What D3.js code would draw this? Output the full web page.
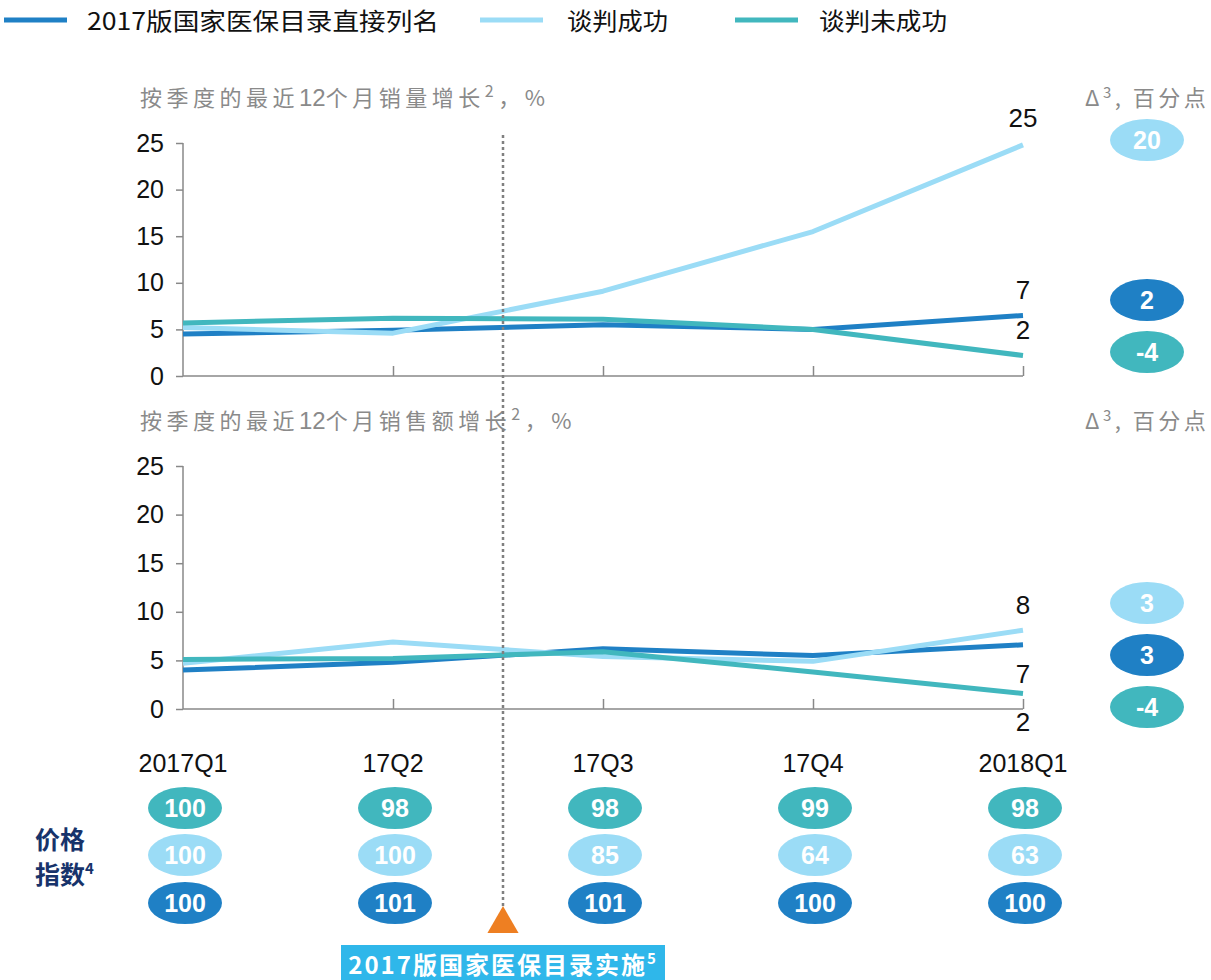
<!DOCTYPE html>
<html><head><meta charset="utf-8">
<script src="https://cdn.jsdelivr.net/npm/d3@7"></script>
<style>
body{margin:0;background:#fff;}
svg{display:block;}
text{font-family:Arial,"Liberation Sans","Noto Sans CJK SC",sans-serif;}
.cjk{font-family:"Noto Sans CJK SC",sans-serif;}
</style></head>
<body>
<svg id="chart" width="1211" height="980"></svg>
<script>
const categories = ["2017Q1","17Q2","17Q3","17Q4","2018Q1"];
const seriesNames = ["2017版国家医保目录直接列名","谈判成功","谈判未成功"];
const colors = ["#1f80c5","#9bdcf6","#41b7be"];

// Top panel: rolling 12-month volume growth, %
const volDirect   = [4.5, 4.9, 5.5, 5.0, 6.5];
const volSuccess  = [5.2, 4.6, 9.1, 15.5, 24.8];
const volFailed   = [5.7, 6.2, 6.1, 5.0, 2.2];
// Bottom panel: rolling 12-month sales value growth, %
const valDirect   = [4.0, 4.8, 6.2, 5.5, 6.6];
const valSuccess  = [4.7, 6.9, 5.4, 4.9, 8.1];
const valFailed   = [5.1, 5.2, 5.9, 3.8, 1.6];

const yTicks = [0,5,10,15,20,25];
const volEndLabels = ["7","25","2"];
const valEndLabels = ["7","8","2"];
const volDelta = ["2","20","-4"];
const valDelta = ["3","3","-4"];

// Price index rows (teal, light, dark)
const priceFailed  = [100, 98, 98, 99, 98];
const priceSuccess = [100, 100, 85, 64, 63];
const priceDirect  = [100, 101, 101, 100, 100];

const svg = d3.select("#chart");
const x = d3.scalePoint().domain(categories).range([183, 1023]);

// Legend
const legX = [4, 480, 735];
const legTextX = [87, 567, 819];
const legTextW = [352, 101, 128];
seriesNames.forEach((n,i)=>{
  svg.append("line").attr("x1",legX[i]).attr("x2",legX[i]+63).attr("y1",20).attr("y2",20)
    .attr("stroke",colors[i]).attr("stroke-width",5);
  svg.append("text").attr("class","cjk").attr("x",legTextX[i]).attr("y",30)
    .attr("font-size",24).attr("fill","#111")
    .attr("textLength",legTextW[i]).attr("lengthAdjust","spacingAndGlyphs").text(n);
});

function panel(top, bottom, data, endLabels, endLabelY, header, deltas, deltaY){
  const y = d3.scaleLinear().domain([0,25]).range([bottom, top]);
  // header
  svg.append("text").attr("class","cjk").attr("x",140).attr("y",top-37)
    .attr("font-size",22).attr("fill","#8a8a8a").attr("letter-spacing",4.5)
    .html(header);
  svg.append("text").attr("class","cjk").attr("x",1085).attr("y",top-37)
    .attr("font-size",22).attr("fill","#8a8a8a").attr("letter-spacing",3.5)
    .html('Δ<tspan dy="-8" font-size="15">3</tspan><tspan dy="8">, 百分点</tspan>');
  // y axis
  const ya = svg.append("g").attr("transform",`translate(183,0)`)
    .call(d3.axisLeft(y).tickValues(yTicks).tickSize(7).tickPadding(12));
  ya.select(".domain").attr("stroke","#888").attr("stroke-width",1.5).attr("d",`M0,${top}V${bottom}`);
  ya.selectAll(".tick line").attr("stroke","#888").attr("stroke-width",1.5);
  ya.selectAll(".tick text").attr("font-size",25).attr("fill","#111").attr("font-family","Arial");
  // x axis
  const xa = svg.append("g").attr("transform",`translate(0,${bottom})`)
    .call(d3.axisTop(x).tickSize(10).tickFormat(""));
  xa.select(".domain").attr("stroke","#888").attr("stroke-width",1.5).attr("d",`M183,0H1023`);
  xa.selectAll(".tick line").attr("stroke","#888").attr("stroke-width",1.5)
    .attr("display",(d,i)=>i===0?"none":null);
  // lines
  const line = d3.line().x((d,i)=>x(categories[i])).y(d=>y(d));
  data.forEach((s,i)=>{
    svg.append("path").attr("d",line(s)).attr("fill","none")
      .attr("stroke",colors[i]).attr("stroke-width",5).attr("stroke-linejoin","round");
  });
  // end labels
  endLabels.forEach((t,i)=>{
    svg.append("text").attr("x",x("2018Q1")).attr("y",endLabelY[i]).attr("text-anchor","middle")
      .attr("font-size",26).attr("fill","#111").text(t);
  });
  // delta badges
  deltas.forEach((t,i)=>{
    svg.append("ellipse").attr("cx",1147).attr("cy",deltaY[i]).attr("rx",37).attr("ry",21)
      .attr("fill",colors[i]);
    svg.append("text").attr("x",1147).attr("y",deltaY[i]+9).attr("text-anchor","middle")
      .attr("font-size",25).attr("font-weight","bold").attr("fill","#fff").text(t);
  });
}

panel(143, 376, [volDirect, volSuccess, volFailed], volEndLabels, [299,127,339],
  '按季度的最近<tspan font-family="Arial" letter-spacing="0" font-size="24">12</tspan>个月销量增长<tspan dy="-9" font-size="16">2</tspan><tspan dy="9">，%</tspan>',
  volDelta, [300,140,352]);
panel(466, 709, [valDirect, valSuccess, valFailed], valEndLabels, [683,614,731],
  '按季度的最近<tspan font-family="Arial" letter-spacing="0" font-size="24">12</tspan>个月销售额增长<tspan dy="-9" font-size="16">2</tspan><tspan dy="9">，%</tspan>',
  valDelta, [655,603,707]);

// dotted vertical line
svg.append("line").attr("x1",503).attr("x2",503).attr("y1",135).attr("y2",910)
  .attr("stroke","#808080").attr("stroke-width",2.5).attr("stroke-dasharray","3,3");

// category labels
categories.forEach(c=>{
  svg.append("text").attr("x",x(c)).attr("y",772).attr("text-anchor","middle")
    .attr("font-size",25).attr("fill","#111").text(c);
});

// price index badges
const priceRows = [[priceFailed, colors[2], 808],[priceSuccess, colors[1], 855],[priceDirect, colors[0], 903]];
priceRows.forEach(([vals,col,cy])=>{
  vals.forEach((v,i)=>{
    svg.append("ellipse").attr("cx",x(categories[i])+2).attr("cy",cy).attr("rx",37).attr("ry",21).attr("fill",col);
    svg.append("text").attr("x",x(categories[i])+2).attr("y",cy+9).attr("text-anchor","middle")
      .attr("font-size",25).attr("font-weight","bold").attr("fill","#fff").text(v);
  });
});
svg.append("text").attr("class","cjk").attr("x",35).attr("y",849).attr("font-size",25)
  .attr("font-weight","bold").attr("fill","#17336b").text("价格");
svg.append("text").attr("class","cjk").attr("x",35).attr("y",884).attr("font-size",25)
  .attr("font-weight","bold").attr("fill","#17336b")
  .html('指数<tspan dy="-10" font-size="15">4</tspan>');

// orange triangle + implementation box
svg.append("path").attr("d",d3.symbol().type(d3.symbolTriangle).size(420)())
  .attr("transform","translate(503,924)").attr("fill","#ee7f22");
svg.append("rect").attr("x",341).attr("y",945).attr("width",324).attr("height",35).attr("fill","#2fb7ea");
svg.append("text").attr("class","cjk").attr("x",503).attr("y",974).attr("text-anchor","middle")
  .attr("font-size",24).attr("font-weight","bold").attr("fill","#fff").attr("letter-spacing",2)
  .html('2017版国家医保目录实施<tspan dy="-10" font-size="15">5</tspan>');
</script>
</body></html>
